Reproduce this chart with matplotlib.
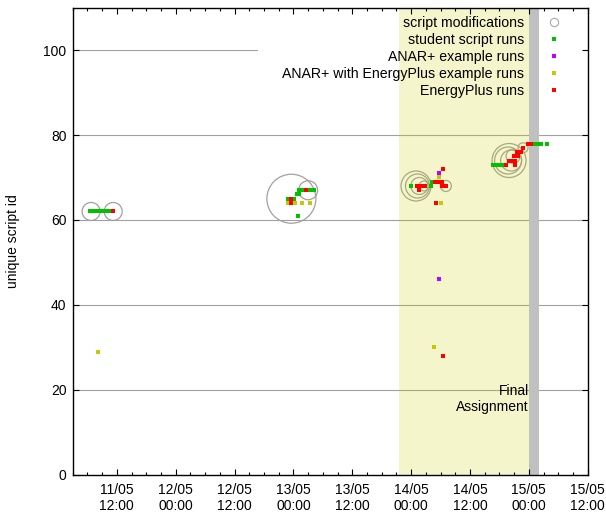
import matplotlib
matplotlib.use("Agg")
import matplotlib.pyplot as plt
import matplotlib.dates as mdates
from matplotlib.lines import Line2D
from matplotlib.patches import Rectangle
import pandas as pd

plt.rcParams['font.family'] = ['Liberation Sans', 'DejaVu Sans']
plt.rcParams['font.size'] = 10

# script modifications (circle radius in px)
mod_times = ["2015-05-11 06:45", "2015-05-11 11:15", "2015-05-12 23:35", "2015-05-13 03:00",
             "2015-05-14 01:00", "2015-05-14 01:18", "2015-05-14 01:40", "2015-05-14 02:39",
             "2015-05-14 07:05", "2015-05-14 19:58", "2015-05-14 19:46", "2015-05-14 20:23",
             "2015-05-14 20:47", "2015-05-14 22:49"]
mod_ids = [62, 62, 65, 67, 68, 68, 68, 68, 68, 74, 74, 74, 75, 77]
mod_radius = [9, 9, 24.5, 9.5, 15, 12, 8.5, 5, 5.5, 17, 13.5, 10.5, 7, 5]

# student script runs
student_times = ["2015-05-11 06:30", "2015-05-11 06:55", "2015-05-11 07:20", "2015-05-11 07:45",
                 "2015-05-11 08:10", "2015-05-11 08:35", "2015-05-11 09:00", "2015-05-11 09:25",
                 "2015-05-11 09:50", "2015-05-11 10:15", "2015-05-11 10:40", "2015-05-11 11:00",
                 "2015-05-12 22:54", "2015-05-13 00:06", "2015-05-13 00:42", "2015-05-13 01:06",
                 "2015-05-13 01:04", "2015-05-13 01:40", "2015-05-13 02:17", "2015-05-13 02:54",
                 "2015-05-13 03:31", "2015-05-13 04:07", "2015-05-13 00:56",
                 "2015-05-13 23:56", "2015-05-14 04:00", "2015-05-14 04:14",
                 "2015-05-14 16:41", "2015-05-14 17:18", "2015-05-14 17:55", "2015-05-14 18:32",
                 "2015-05-14 18:57", "2015-05-15 01:17", "2015-05-15 01:54", "2015-05-15 02:30",
                 "2015-05-15 03:44"]
student_ids = [62] * 12 + [65, 65, 66, 66, 67, 67, 67, 67, 67, 67, 61,
                           68, 68, 69, 73, 73, 73, 73, 73, 78, 78, 78, 78]

# ANAR+ example runs
anar_times = ["2015-05-14 05:36", "2015-05-14 05:40"]
anar_ids = [71, 46]

# ANAR+ with EnergyPlus example runs
anar_ep_times = ["2015-05-11 08:10", "2015-05-12 22:56", "2015-05-13 00:22", "2015-05-13 01:48",
                 "2015-05-13 03:22", "2015-05-14 05:36", "2015-05-14 06:04", "2015-05-14 04:42"]
anar_ep_ids = [29, 64, 64, 64, 64, 70, 64, 30]

# EnergyPlus runs
ep_times = ["2015-05-11 11:15", "2015-05-13 02:35", "2015-05-12 23:30", "2015-05-12 23:36",
            "2015-05-14 01:10", "2015-05-14 01:59", "2015-05-14 02:48", "2015-05-14 06:16",
            "2015-05-14 07:05", "2015-05-14 04:50", "2015-05-14 05:40", "2015-05-14 06:16",
            "2015-05-14 01:31", "2015-05-14 06:25", "2015-05-14 05:03", "2015-05-14 06:25",
            "2015-05-14 19:21", "2015-05-14 21:11", "2015-05-14 19:58", "2015-05-14 20:35",
            "2015-05-14 21:11", "2015-05-14 20:59", "2015-05-14 21:48", "2015-05-14 21:36",
            "2015-05-14 22:25", "2015-05-14 22:49", "2015-05-14 23:51", "2015-05-15 00:28"]
ep_ids = [62, 67, 65, 64, 68, 68, 68, 68, 68, 69, 69, 69, 67, 72, 64, 28,
          73, 73, 74, 74, 74, 75, 75, 76, 76, 77, 78, 78]

# periods
final_start, final_end = "2015-05-13 21:30", "2015-05-15 00:00"
deadline_start, deadline_end = "2015-05-15 00:00", "2015-05-15 02:05"
x_start, x_end = "2015-05-11 03:00", "2015-05-15 12:00"

fig = plt.figure(figsize=(6.06, 5.19), dpi=100)
ax = fig.add_axes([0.12, 0.0854, 0.8498, 0.8998])

for y in [20, 40, 60, 80, 100]:
    ax.axhline(y, color='#a0a0a0', lw=0.8, zorder=0.5)

# white key background
ax.add_patch(Rectangle((0.36, 0.806), 0.64, 0.194, transform=ax.transAxes,
                       facecolor='white', edgecolor='none', zorder=1))

sizes = [(1.44 * r) ** 2 for r in mod_radius]
ax.scatter(pd.to_datetime(mod_times), mod_ids, s=sizes, facecolors='none',
           edgecolors='#a0a0a0', linewidths=0.9, zorder=1.2)

ax.axvspan(pd.to_datetime(final_start), pd.to_datetime(final_end),
           color='#d0d000', alpha=0.2, lw=0, zorder=1.5)
ax.axvspan(pd.to_datetime(deadline_start), pd.to_datetime(deadline_end),
           color='#c0c0c0', lw=0, zorder=1.5)

ms = 3
ax.plot(pd.to_datetime(student_times), student_ids, 's', color='#00c000', ms=ms, mew=0, zorder=3)
ax.plot(pd.to_datetime(anar_times), anar_ids, 's', color='#c000ff', ms=ms, mew=0, zorder=3)
ax.plot(pd.to_datetime(anar_ep_times), anar_ep_ids, 's', color='#c8c800', ms=ms, mew=0, zorder=3)
ax.plot(pd.to_datetime(ep_times), ep_ids, 's', color='#ff0000', ms=ms, mew=0, zorder=3)

ax.text(pd.to_datetime(final_end), 17.8, 'Final\nAssignment', ha='right', va='center',
        multialignment='right', zorder=4)

handles = [
    Line2D([], [], ls='none', marker='o', mfc='none', mec='#a8a8a8', mew=0.8, ms=6),
    Line2D([], [], ls='none', marker='s', color='#00c000', ms=ms, mew=0),
    Line2D([], [], ls='none', marker='s', color='#c000ff', ms=ms, mew=0),
    Line2D([], [], ls='none', marker='s', color='#c8c800', ms=ms, mew=0),
    Line2D([], [], ls='none', marker='s', color='#ff0000', ms=ms, mew=0),
]
labels = ['script modifications', 'student script runs', 'ANAR+ example runs',
          'ANAR+ with EnergyPlus example runs', 'EnergyPlus runs']
leg = ax.legend(handles, labels, loc='upper right', bbox_to_anchor=(0.948, 0.9822),
                frameon=False, markerfirst=False, borderpad=0, borderaxespad=0,
                handlelength=1.0, handletextpad=1.6, labelspacing=0.21,
                prop={'size': 10.2})
leg.set_zorder(5)

ax.set_xlim(pd.to_datetime(x_start), pd.to_datetime(x_end))
ax.set_ylim(0, 110)
ax.set_yticks([0, 20, 40, 60, 80, 100])
ax.xaxis.set_major_locator(mdates.HourLocator(byhour=[0, 12]))
ax.xaxis.set_minor_locator(mdates.HourLocator(byhour=range(0, 24, 3)))
ax.xaxis.set_major_formatter(mdates.DateFormatter('%d/%m\n%H:%M'))
ax.tick_params(which='both', direction='in', top=True, right=True, width=0.8)
ax.tick_params(which='major', length=4.3)
ax.tick_params(which='minor', length=2.2)
ax.tick_params(axis='x', which='major', pad=6)
ax.tick_params(axis='y', pad=4.5)
ax.set_axisbelow(False)
for s in ax.spines.values():
    s.set_linewidth(1.0)
    s.set_zorder(4)

ax.set_ylabel('unique script id')
ax.yaxis.set_label_coords(-0.1025, 0.5)

fig.savefig('out.png', dpi=100)
